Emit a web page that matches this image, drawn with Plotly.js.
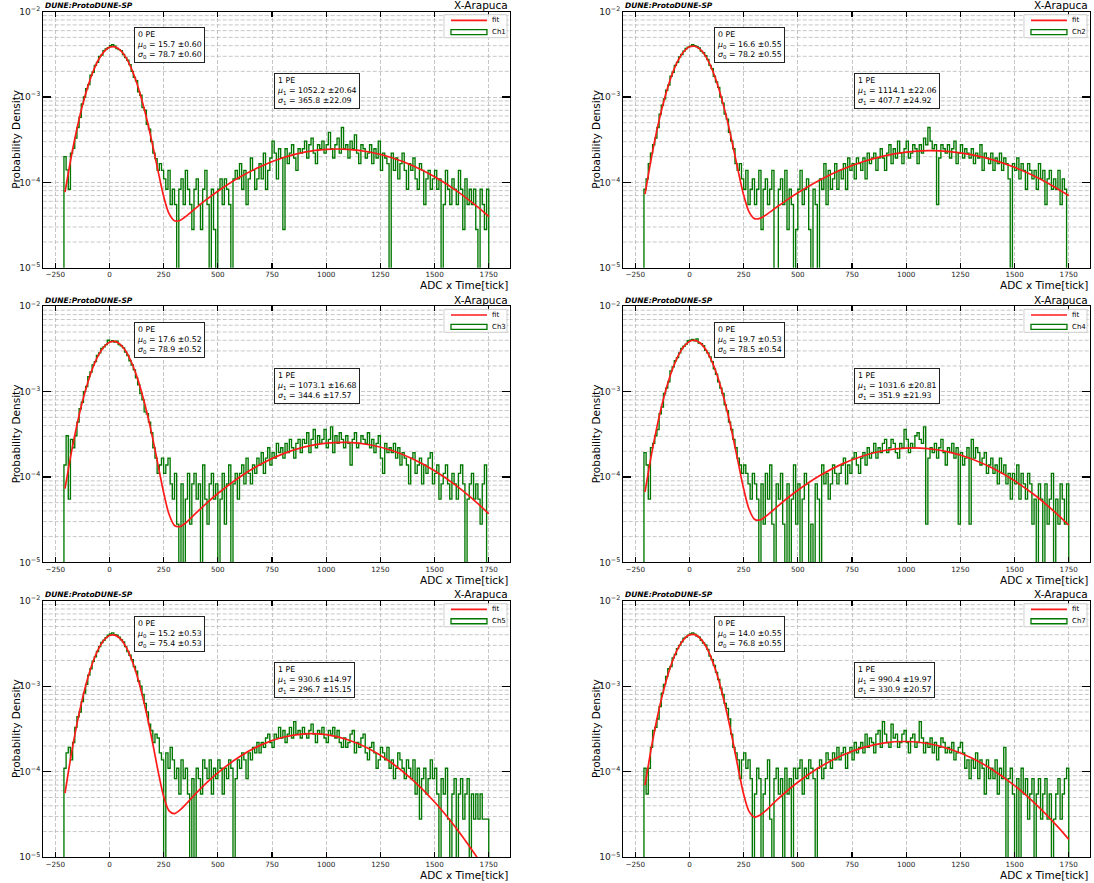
<!DOCTYPE html>
<html>
<head>
<meta charset="utf-8">
<script src="https://cdn.plot.ly/plotly-3.0.1.min.js"></script>
<style>html,body{margin:0;padding:0;background:#fff}#chart{width:1094px;height:883px}</style>
</head>
<body>
<div id="chart"></div>
<script>
// ---------------- DATA ----------------
// Histogram binning (ADC x Time[tick])
const binStart = -210, binWidth = 10, nBins = 196;
// Densities below are in units of 1e-5 (Probability Density)
const DENSITY_UNIT = 1e-5;

const channels = ['Ch1', 'Ch2', 'Ch3', 'Ch4', 'Ch5', 'Ch7'];

// Fit results (0 PE and 1 PE gaussians)
const mu0      = [15.7, 16.6, 17.6, 19.7, 15.2, 14.0];
const mu0Err   = [0.60, 0.55, 0.52, 0.53, 0.53, 0.55];
const sigma0   = [78.7, 78.2, 78.9, 78.5, 75.4, 76.8];
const sigma0Err= [0.60, 0.55, 0.52, 0.54, 0.53, 0.55];
const mu1      = [1052.2, 1114.1, 1073.1, 1031.6, 930.6, 990.4];
const mu1Err   = [20.64, 22.06, 16.68, 20.81, 14.97, 19.97];
const sigma1   = [365.8, 407.7, 344.6, 351.9, 296.7, 330.9];
const sigma1Err= [22.09, 24.92, 17.57, 21.93, 15.15, 20.57];

// Fit curve at these x positions
const fitX = [-205,-175,-150,-125,-100,-75,-50,-25,0,25,50,75,100,125,150,175,200,225,250,275,300,325,350,400,450,500,600,700,800,900,1000,1100,1200,1300,1400,1500,1600,1700,1750];
const ch1Fit = [7.7,20.8,42.5,78.9,132.4,200.8,275.3,341,382.3,387.3,354.7,293.6,219.7,148.7,90.9,51.7,26.7,13.3,6.86,4.29,3.55,3.58,3.95,5.03,6.35,7.88,11.47,15.48,19.4,22.57,24.35,24.39,22.67,19.55,15.65,11.62,8.01,5.12,3.98];
const ch2Fit = [7.27,19.8,41.1,77.1,130.5,199.6,275.7,343.8,387.4,393.9,361.7,299.8,224.4,151.7,92.6,52.6,27.2,13.55,7.1,4.52,3.76,3.78,4.1,5.07,6.24,7.56,10.61,14.03,17.47,20.48,22.6,23.49,22.98,21.18,18.37,15.01,11.55,8.37,6.96];
const ch3Fit = [7.3,19.8,40.7,76,128.1,195.4,269.5,336.2,379.4,387.3,357.5,298.6,225.5,154,95.2,54,27.9,13.5,6.55,3.65,2.7,2.62,2.87,3.79,4.98,6.4,9.94,14.2,18.63,22.48,24.93,25.42,23.83,20.53,16.26,11.84,7.92,4.87,3.7];
const ch4Fit = [6.7,18.5,38.7,73.2,125.1,193.2,269.7,340.2,387.6,399.1,371.3,312.1,237,162.7,100.9,57.6,30,14.7,7.27,4.19,3.2,3.13,3.42,4.38,5.59,7.0,10.32,14.05,17.64,20.42,21.81,21.49,19.53,16.37,12.66,9.03,5.94,3.6,2.72];
const ch5Fit = [5.64,16.6,36.3,71,124.5,195.6,275.2,347,392,396.6,359.6,292,212.5,138.6,80.9,43.4,21.2,9.99,5.15,3.49,3.24,3.56,4.11,5.64,7.51,9.73,15,20.63,25.32,27.75,27.15,23.7,18.48,12.85,7.98,4.43,2.19,0.966,0.616];
const ch7Fit = [6.98,19.6,41.4,78.7,134.6,207,286.2,356,398.3,400.9,362.8,295.4,216.3,142.5,84.4,46.1,22.9,10.9,5.45,3.44,2.95,3.1,3.47,4.6,5.96,7.54,11.27,15.38,19.15,21.77,22.59,21.4,18.49,14.59,10.51,6.9,4.14,2.27,1.62];

// Histogram densities (bins of 10 starting at -210), one row per 100 ADC
const ch1Hist = [
 20,14,8.3,22,25,33,44,58,83,100,
 125,140,180,195,235,255,300,310,350,365,
 380,400,410,395,370,360,350,315,290,270,
 240,200,170,155,115,105,75,70,48,42,
 30,22,19,13.8,16.6,13.8,11,8.3,13.8,5.5,
 8.3,5.5,0,8.3,11,5.5,13.8,8.3,5.5,2.8,
 8.3,11,5.5,2.8,8.3,13.8,5.5,0,8.3,2.8,
 0,8.3,11,5.5,11,8.3,5.5,0,11,13.8,
 11,16.6,8.3,13.8,5.5,11,19.3,13.8,8.3,11,
 16.6,11,22,8.3,13.8,19.3,30.4,22,11,24.8,
 19.3,2.8,24.8,16.6,22,27.6,19.3,13.8,24.8,22,
 24.8,30.4,19.3,27.6,33,22,16.6,27.6,24.8,30.4,
 22,27.6,38.6,24.8,19.3,27.6,33,22,44,24.8,
 27.6,19.3,30.4,24.8,36,22,16.6,27.6,24.8,19.3,
 22,27.6,16.6,24.8,19.3,30.4,13.8,22,19.3,16.6,
 0,22,13.8,19.3,11,16.6,22,13.8,8.3,16.6,
 13.8,19.3,11,8.3,16.6,13.8,5.5,11,13.8,8.3,
 11,13.8,8.3,11,0,5.5,13.8,8.3,5.5,11,
 8.3,5.5,13.8,8.3,2.8,11,5.5,8.3,5.5,8.3,
 2.8,0,8.3,5.5,2.8,8.3];
const ch2Hist = [
 8.3,11,16.6,22,27.6,33,44,63,80,95,
 120,138,175,195,235,255,295,315,345,370,
 385,395,410,400,390,375,345,330,305,275,
 235,215,175,150,130,100,85,63,55,38.6,
 30.4,24.8,16.6,13.8,16.6,11,8.3,13.8,5.5,8.3,
 11,5.5,8.3,13.8,2.8,8.3,11,5.5,8.3,13.8,
 0,0,8.3,11,5.5,13.8,2.8,8.3,5.5,0,
 2.8,8.3,13.8,5.5,8.3,11,2.8,0,8.3,5.5,
 0,11,8.3,16.6,5.5,13.8,8.3,11,16.6,8.3,
 13.8,11,16.6,8.3,19.3,13.8,16.6,11,19.3,16.6,
 13.8,19.3,11,22,16.6,19.3,22,13.8,19.3,24.8,
 19.3,13.8,22,27.6,16.6,24.8,19.3,30.4,22,16.6,
 24.8,30.4,19.3,22,27.6,24.8,16.6,27.6,22,33,
 27.6,44,30.4,24.8,27.6,5.5,19.3,27.6,24.8,22,
 27.6,19.3,24.8,30.4,16.6,22,27.6,19.3,24.8,22,
 19.3,24.8,16.6,22,19.3,27.6,13.8,22,19.3,16.6,
 22,13.8,19.3,16.6,22,13.8,19.3,16.6,11,0,
 16.6,13.8,19.3,11,16.6,13.8,8.3,16.6,13.8,11,
 13.8,8.3,16.6,11,13.8,5.5,11,13.8,8.3,11,
 8.3,13.8,5.5,11,8.3,0];
const ch3Hist = [
 13.8,30.4,5.5,27.6,22,30.4,44,63,75,100,
 115,150,170,205,225,265,285,320,335,355,
 400,385,395,380,390,355,345,325,290,265,
 230,205,180,145,120,95,80,58,55,44,
 33,22,16.6,11,13.8,16.6,11,13.8,16.6,8.3,
 5.5,11,2.8,0,8.3,0,5.5,11,2.8,8.3,
 11,5.5,8.3,0,13.8,5.5,2.8,8.3,11,5.5,
 8.3,0,5.5,11,2.8,8.3,13.8,0,8.3,11,
 5.5,11,13.8,8.3,16.6,11,8.3,13.8,11,16.6,
 13.8,19.3,11,16.6,22,13.8,19.3,16.6,24.8,19.3,
 22,16.6,24.8,19.3,27.6,22,16.6,24.8,27.6,19.3,
 27.6,24.8,33,19.3,27.6,36,22,30.4,24.8,27.6,
 36,22,27.6,38.6,19.3,30.4,24.8,33,27.6,22,
 30.4,24.8,13.8,27.6,33,22,24.8,30.4,27.6,24.8,
 33,22,27.6,19.3,24.8,30.4,16.6,11,24.8,19.3,
 22,19.3,24.8,16.6,22,13.8,19.3,16.6,13.8,8.3,
 16.6,19.3,11,13.8,16.6,8.3,13.8,11,16.6,19.3,
 8.3,11,13.8,5.5,8.3,11,13.8,8.3,5.5,11,
 8.3,5.5,11,13.8,8.3,0,5.5,8.3,11,5.5,
 8.3,5.5,2.8,8.3,13.8,0];
const ch4Hist = [
 19.3,13.8,5.5,22,24.8,30.4,36,55,66,95,
 110,130,175,195,230,250,285,320,340,360,
 395,400,410,395,415,370,365,345,305,285,
 255,225,185,160,130,110,95,70,60,44,
 36,27.6,22,16.6,13.8,11,13.8,11,8.3,5.5,
 11,8.3,5.5,0,8.3,2.8,11,5.5,13.8,2.8,
 0,8.3,5.5,11,2.8,0,8.3,0,5.5,13.8,
 2.8,8.3,0,5.5,11,8.3,0,2.8,0,8.3,
 5.5,0,13.8,8.3,11,5.5,8.3,13.8,11,8.3,
 11,13.8,16.6,8.3,13.8,11,16.6,19.3,13.8,11,
 16.6,19.3,13.8,22,16.6,19.3,24.8,16.6,22,19.3,
 24.8,27.6,19.3,22,27.6,24.8,19.3,16.6,24.8,22,
 36,27.6,19.3,24.8,22,30.4,33,27.6,24.8,38.6,
 2.8,16.6,22,19.3,24.8,16.6,22,27.6,19.3,13.8,
 22,19.3,24.8,16.6,22,2.8,19.3,13.8,16.6,22,
 2.8,27.6,16.6,22,19.3,13.8,16.6,19.3,11,13.8,
 16.6,11,13.8,8.3,16.6,11,13.8,8.3,11,5.5,
 11,8.3,13.8,5.5,11,8.3,5.5,11,8.3,2.8,
 5.5,0,8.3,5.5,0,8.3,2.8,5.5,11,0,
 5.5,2.8,8.3,5.5,2.8,8.3];
const ch5Hist = [
 11,16.6,19.3,13.8,22,33,44,50,66,83,
 105,135,160,195,220,255,290,325,345,370,
 395,410,420,400,395,375,350,330,290,255,
 230,205,170,150,115,100,80,63,50,36,
 30.4,22,27.6,24.8,16.6,13.8,0,16.6,11,19.3,
 13.8,8.3,11,5.5,13.8,8.3,11,5.5,0,8.3,
 0,11,8.3,5.5,13.8,11,8.3,13.8,5.5,11,
 8.3,13.8,11,5.5,11,8.3,13.8,11,0,8.3,
 13.8,11,16.6,13.8,8.3,16.6,13.8,19.3,16.6,22,
 16.6,22,19.3,24.8,27.6,22,19.3,27.6,24.8,33,
 24.8,30.4,22,27.6,33,24.8,38.6,27.6,30.4,24.8,
 33,27.6,24.8,30.4,36,27.6,22,30.4,27.6,33,
 24.8,22,30.4,27.6,33,24.8,30.4,22,19.3,24.8,
 19.3,22,27.6,30.4,16.6,22,19.3,24.8,27.6,16.6,
 13.8,19.3,22,16.6,11,13.8,19.3,16.6,13.8,19.3,
 11,13.8,8.3,11,16.6,13.8,11,8.3,13.8,11,
 8.3,13.8,5.5,11,2.8,8.3,11,5.5,8.3,13.8,
 8.3,11,5.5,0,8.3,5.5,11,2.8,0,5.5,
 8.3,0,5.5,8.3,2.8,5.5,8.3,0,5.5,2.8,
 5.5,2.8,5.5,2.8,2.8,2.8];
const ch7Hist = [
 11,5.5,11,19.3,30.4,33,41.4,58,83,105,
 130,160,170,215,235,275,300,330,365,375,
 395,410,420,405,385,375,345,320,305,270,
 225,205,175,145,120,95,80,63,55,41.4,
 27.6,19.3,16.6,13.8,8.3,13.8,16.6,11,13.8,8.3,
 0,5.5,11,8.3,0,5.5,8.3,13.8,2.8,0,
 8.3,11,5.5,8.3,0,11,5.5,8.3,0,11,
 8.3,11,13.8,5.5,11,8.3,13.8,11,8.3,0,
 11,13.8,8.3,11,16.6,13.8,11,16.6,13.8,19.3,
 13.8,16.6,19.3,11,16.6,19.3,13.8,22,16.6,19.3,
 22,16.6,27.6,19.3,24.8,22,16.6,27.6,30.4,19.3,
 38.6,27.6,22,19.3,36,24.8,27.6,19.3,22,27.6,
 30.4,22,16.6,24.8,27.6,19.3,22,38.6,24.8,16.6,
 22,19.3,24.8,16.6,22,13.8,19.3,24.8,22,16.6,
 19.3,16.6,22,13.8,16.6,19.3,22,16.6,11,13.8,
 8.3,13.8,11,16.6,8.3,13.8,11,5.5,13.8,8.3,
 11,8.3,13.8,5.5,11,8.3,19.3,0,8.3,11,
 5.5,0,8.3,0,11,5.5,8.3,2.8,5.5,8.3,
 0,5.5,8.3,2.8,5.5,8.3,2.8,5.5,0,2.8,
 5.5,8.3,2.8,5.5,8.3,11];

const histData = [ch1Hist, ch2Hist, ch3Hist, ch4Hist, ch5Hist, ch7Hist];
const fitData  = [ch1Fit, ch2Fit, ch3Fit, ch4Fit, ch5Fit, ch7Fit];

// ---------------- PLOT ----------------
const W = 1094, H = 883;
const colDomains = [[0.03903, 0.46618], [0.56920, 0.99634]];
const rowDomains = [[0.69683, 0.98675], [0.36319, 0.65312], [0.02911, 0.31970]];
const histColor = '#007800', fitColor = '#ff1a1a', gridColor = '#b9b9b9';
const FONT = 'DejaVu Sans, Verdana, sans-serif';
const EMPTY = 1e-9; // empty bins drop below the log axis

const edges = [];
for (let i = 0; i <= nBins; i++) edges.push(binStart + i * binWidth);

const traces = [];
const layout = {
  width: W, height: H,
  margin: {l: 0, r: 0, t: 0, b: 0},
  paper_bgcolor: '#ffffff', plot_bgcolor: '#ffffff',
  showlegend: false,
  font: {family: FONT, color: '#000'},
  shapes: [], annotations: []
};

function fmt(v, d) { return v.toFixed(d); }

for (let p = 0; p < 6; p++) {
  const row = Math.floor(p / 2), col = p % 2;
  const n = p + 1;
  const xr = n === 1 ? 'x' : 'x' + n;
  const yr = n === 1 ? 'y' : 'y' + n;
  const xKey = n === 1 ? 'xaxis' : 'xaxis' + n;
  const yKey = n === 1 ? 'yaxis' : 'yaxis' + n;

  layout[xKey] = {
    domain: colDomains[col], anchor: yr,
    range: [-308, 1848], tick0: -250, dtick: 250,
    ticks: 'inside', ticklen: 5, tickwidth: 1.3, tickcolor: '#000',
    showline: true, linecolor: '#000', linewidth: 1, mirror: 'ticks',
    showgrid: true, gridcolor: gridColor, gridwidth: 0.8, griddash: '4px,2px',
    zeroline: false,
    tickfont: {size: 7.2, family: FONT, color: '#222'}
  };
  layout[yKey] = {
    domain: rowDomains[row], anchor: xr,
    type: 'log', range: [-5, -2], dtick: 1,
    exponentformat: 'power',
    ticks: 'inside', ticklen: 8, tickwidth: 1.3, tickcolor: '#000',
    showline: true, linecolor: '#000', linewidth: 1, mirror: 'ticks',
    showgrid: true, gridcolor: gridColor, gridwidth: 0.8, griddash: '4px,2px',
    zeroline: false,
    tickfont: {size: 7.3, family: FONT, color: '#222'}
  };

  // minor log gridlines
  for (let dec = -5; dec < -2; dec++) {
    for (let k = 2; k <= 9; k++) {
      const f = (dec + Math.log10(k) + 5) / 3;
      layout.shapes.push({type: 'line', xref: xr + ' domain', yref: yr + ' domain',
        x0: 0, x1: 1, y0: f, y1: f, layer: 'below',
        line: {color: gridColor, width: 0.8, dash: '4px,2px'}});
    }
  }

  // histogram as step outline
  const vals = histData[p];
  const hx = [edges[0]], hy = [EMPTY];
  for (let i = 0; i < nBins; i++) {
    hx.push(edges[i]);
    hy.push(vals[i] > 0 ? vals[i] * DENSITY_UNIT : EMPTY);
  }
  hx.push(edges[nBins]); hy.push(hy[hy.length - 1]);
  hx.push(edges[nBins]); hy.push(EMPTY);
  traces.push({type: 'scatter', mode: 'lines', x: hx, y: hy, xaxis: xr, yaxis: yr,
    line: {color: histColor, width: 1.35, shape: 'hv'}, hoverinfo: 'skip', name: channels[p]});

  // fit curve
  traces.push({type: 'scatter', mode: 'lines', x: fitX,
    y: fitData[p].map(v => v * DENSITY_UNIT), xaxis: xr, yaxis: yr,
    line: {color: fitColor, width: 1.7, shape: 'spline', smoothing: 0.8}, hoverinfo: 'skip', name: 'fit'});

  const dx = xr + ' domain', dy = yr + ' domain';

  // legend (drawn manually to mimic the patch style)
  layout.shapes.push({type: 'rect', xref: dx, yref: dy, x0: 0.8587, x1: 0.9936, y0: 0.8984, y1: 0.9883,
    line: {color: '#cfcfcf', width: 1}, fillcolor: 'rgba(255,255,255,0.85)', layer: 'above'});
  layout.shapes.push({type: 'line', xref: dx, yref: dy, x0: 0.8737, x1: 0.9507, y0: 0.966, y1: 0.966,
    line: {color: fitColor, width: 1.7}, layer: 'above'});
  layout.shapes.push({type: 'rect', xref: dx, yref: dy, x0: 0.8737, x1: 0.9507, y0: 0.9102, y1: 0.9297,
    line: {color: histColor, width: 1.3}, fillcolor: 'rgba(0,0,0,0)', layer: 'above'});
  layout.annotations.push({xref: dx, yref: dy, x: 0.957, y: 0.966, xanchor: 'left', yanchor: 'middle',
    showarrow: false, text: 'fit', font: {size: 7, family: FONT, color: '#000'}});
  layout.annotations.push({xref: dx, yref: dy, x: 0.957, y: 0.92, xanchor: 'left', yanchor: 'middle',
    showarrow: false, text: channels[p], font: {size: 7, family: FONT, color: '#000'}});

  // fit parameter boxes
  layout.annotations.push({xref: dx, yref: dy, x: 0.1954, y: 0.940, xanchor: 'left', yanchor: 'top',
    align: 'left', showarrow: false, bgcolor: '#ffffff', bordercolor: '#222', borderwidth: 1, borderpad: 2,
    font: {size: 7.8, family: FONT, color: '#000'},
    text: '0 PE<br><i>μ</i><sub>0</sub> = ' + fmt(mu0[p], 1) + ' ±' + fmt(mu0Err[p], 2) +
          '<br><i>σ</i><sub>0</sub> = ' + fmt(sigma0[p], 1) + ' ±' + fmt(sigma0Err[p], 2)});
  layout.annotations.push({xref: dx, yref: dy, x: 0.495, y: 0.7605, xanchor: 'left', yanchor: 'top',
    align: 'left', showarrow: false, bgcolor: '#ffffff', bordercolor: '#222', borderwidth: 1, borderpad: 2,
    font: {size: 7.8, family: FONT, color: '#000'},
    text: '1 PE<br><i>μ</i><sub>1</sub> = ' + fmt(mu1[p], 1) + ' ±' + fmt(mu1Err[p], 2) +
          '<br><i>σ</i><sub>1</sub> = ' + fmt(sigma1[p], 1) + ' ±' + fmt(sigma1Err[p], 2)});

  // titles
  layout.annotations.push({xref: dx, yref: dy, x: 0, y: 1.0234, xanchor: 'left', yanchor: 'middle',
    showarrow: false, text: '<b><i>DUNE:ProtoDUNE-SP</i></b>', font: {size: 7.5, family: FONT, color: '#000'}});
  layout.annotations.push({xref: dx, yref: dy, x: 1, y: 1.026, xanchor: 'right', yanchor: 'middle',
    showarrow: false, text: 'X-Arapuca', font: {size: 10.5, family: FONT, color: '#000'}});
  layout.annotations.push({xref: dx, yref: dy, x: 1, y: -0.068, xanchor: 'right', yanchor: 'middle',
    showarrow: false, text: 'ADC x Time[tick]', font: {size: 10.5, family: FONT, color: '#000'}});
  layout.annotations.push({xref: dx, yref: dy, x: -0.057, y: 0.5, xanchor: 'center', yanchor: 'middle',
    textangle: -90, showarrow: false, text: 'Probability Density', font: {size: 10.5, family: FONT, color: '#000'}});
}

Plotly.newPlot('chart', traces, layout, {staticPlot: true, displayModeBar: false});
</script>
</body>
</html>
